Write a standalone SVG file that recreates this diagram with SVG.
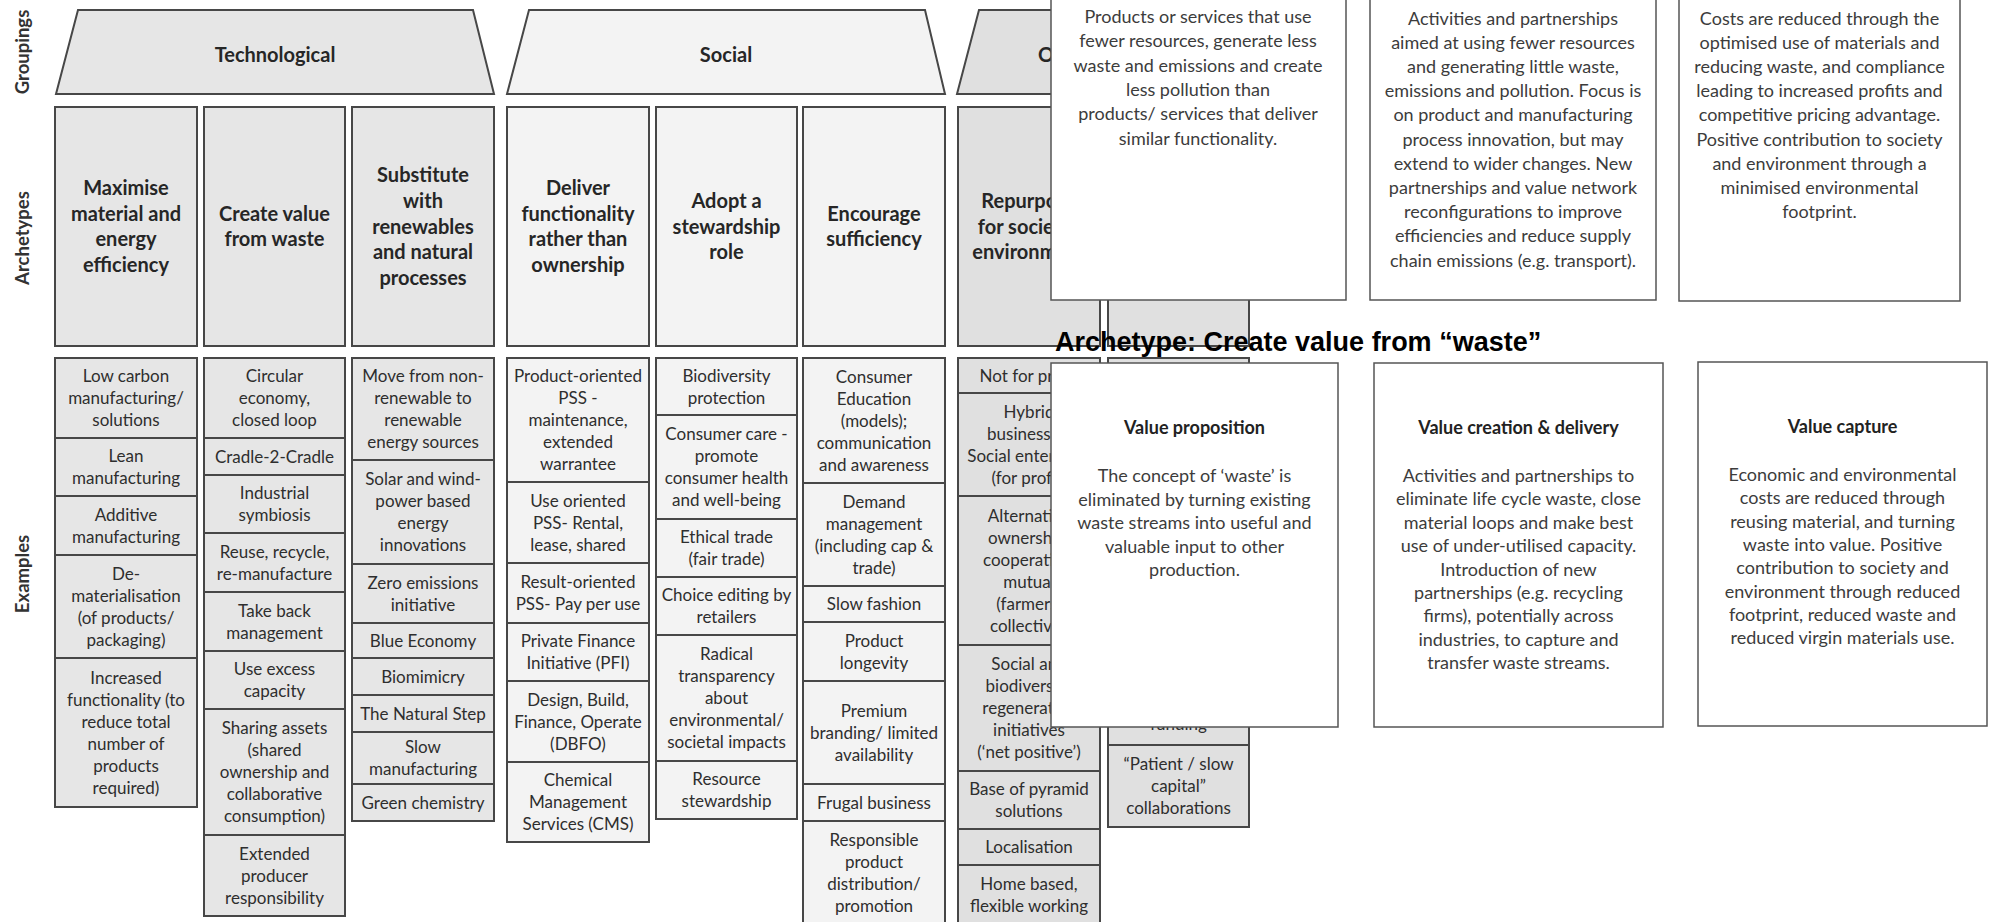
<svg xmlns="http://www.w3.org/2000/svg" width="1989" height="922" viewBox="0 0 1989 922">
<style>
.bt{fill:#e6e6e6;stroke:#474747;stroke-width:2}
.bs{fill:#f3f3f3;stroke:#474747;stroke-width:2}
.bo{fill:#e0e0e0;stroke:#474747;stroke-width:2}
.ex{font-family:Lato,"Liberation Sans",sans-serif;font-size:17px;fill:#2e2e2e;text-anchor:middle}
.ar{font-family:Lato,"Liberation Sans",sans-serif;font-size:20px;font-weight:bold;fill:#262626;text-anchor:middle}
.gr{font-family:Lato,"Liberation Sans",sans-serif;font-size:20px;font-weight:bold;fill:#262626;text-anchor:middle}
.sd{font-family:Lato,"Liberation Sans",sans-serif;font-size:18.5px;font-weight:bold;fill:#333;text-anchor:middle}
.pn{fill:#fff;stroke:#555;stroke-width:1.5}
.pt{font-family:Lato,"Liberation Sans",sans-serif;font-size:18px;fill:#3c3c3c;text-anchor:middle}
.ph{font-family:Lato,"Liberation Sans",sans-serif;font-size:18px;font-weight:bold;fill:#222;text-anchor:middle}
.ti{font-family:"Liberation Sans",Arial,sans-serif;font-size:27px;font-weight:bold;fill:#000}
</style>
<rect x="0" y="0" width="1989" height="922" fill="#fff"/>

<g id="side-labels">
<text class="sd" transform="translate(29,52) rotate(-90)">Groupings</text>
<text class="sd" transform="translate(29,238) rotate(-90)">Archetypes</text>
<text class="sd" transform="translate(29,574) rotate(-90)">Examples</text>
</g>

<g id="group-technological">
<polygon class="bt" points="78,10 473,10 494,94 56,94"/>
<text class="gr" x="275" y="62">Technological</text>
</g>
<g id="group-social">
<polygon class="bs" points="529,10 925,10 945,94 507,94"/>
<text class="gr" x="726" y="62">Social</text>
</g>
<g id="group-organisational">
<polygon class="bo" points="979,10 1228,10 1249,94 957,94"/>
<text class="gr" x="1038" y="62" style="text-anchor:start">O</text>
</g>

<g id="arch-1"><rect class="bt" x="55" y="107" width="142" height="239"/>
<text class="ar"><tspan x="126" y="195">Maximise</tspan><tspan x="126" y="220.6">material and</tspan><tspan x="126" y="246.2">energy</tspan><tspan x="126" y="271.8">efficiency</tspan></text></g>
<g id="arch-2"><rect class="bt" x="204" y="107" width="141" height="239"/>
<text class="ar"><tspan x="274.5" y="220.7">Create value</tspan><tspan x="274.5" y="246.3">from waste</tspan></text></g>
<g id="arch-3"><rect class="bt" x="352" y="107" width="142" height="239"/>
<text class="ar"><tspan x="423" y="182.3">Substitute</tspan><tspan x="423" y="207.9">with</tspan><tspan x="423" y="233.5">renewables</tspan><tspan x="423" y="259.1">and natural</tspan><tspan x="423" y="284.7">processes</tspan></text></g>
<g id="arch-4"><rect class="bs" x="507" y="107" width="142" height="239"/>
<text class="ar"><tspan x="578" y="195">Deliver</tspan><tspan x="578" y="220.6">functionality</tspan><tspan x="578" y="246.2">rather than</tspan><tspan x="578" y="271.8">ownership</tspan></text></g>
<g id="arch-5"><rect class="bs" x="656" y="107" width="141" height="239"/>
<text class="ar"><tspan x="726.5" y="207.9">Adopt a</tspan><tspan x="726.5" y="233.5">stewardship</tspan><tspan x="726.5" y="259.1">role</tspan></text></g>
<g id="arch-6"><rect class="bs" x="803" y="107" width="142" height="239"/>
<text class="ar"><tspan x="874" y="220.7">Encourage</tspan><tspan x="874" y="246.3">sufficiency</tspan></text></g>
<g id="arch-7"><rect class="bo" x="958" y="107" width="142" height="239"/>
<text class="ar"><tspan x="1029" y="207.9">Repurpose</tspan><tspan x="1029" y="233.5">for society/</tspan><tspan x="1029" y="259.1">environment</tspan></text></g>
<g id="arch-8"><rect class="bo" x="1108" y="107" width="141" height="239"/></g>

<g id="examples-1">
<rect class="bt" x="55" y="358" width="142" height="80"/>
<text class="ex"><tspan x="126" y="382">Low carbon</tspan><tspan x="126" y="404">manufacturing/</tspan><tspan x="126" y="426">solutions</tspan></text>
<rect class="bt" x="55" y="438" width="142" height="58"/>
<text class="ex"><tspan x="126" y="462">Lean</tspan><tspan x="126" y="484">manufacturing</tspan></text>
<rect class="bt" x="55" y="496" width="142" height="59"/>
<text class="ex"><tspan x="126" y="520.5">Additive</tspan><tspan x="126" y="542.5">manufacturing</tspan></text>
<rect class="bt" x="55" y="555" width="142" height="103"/>
<text class="ex"><tspan x="126" y="579.5">De-</tspan><tspan x="126" y="601.5">materialisation</tspan><tspan x="126" y="623.5">(of products/</tspan><tspan x="126" y="645.5">packaging)</tspan></text>
<rect class="bt" x="55" y="658" width="142" height="149"/>
<text class="ex"><tspan x="126" y="683.5">Increased</tspan><tspan x="126" y="705.5">functionality (to</tspan><tspan x="126" y="727.5">reduce total</tspan><tspan x="126" y="749.5">number of</tspan><tspan x="126" y="771.5">products</tspan><tspan x="126" y="793.5">required)</tspan></text>
</g>

<g id="examples-2">
<rect class="bt" x="204" y="358" width="141" height="80"/>
<text class="ex"><tspan x="274.5" y="382">Circular</tspan><tspan x="274.5" y="404">economy,</tspan><tspan x="274.5" y="426">closed loop</tspan></text>
<rect class="bt" x="204" y="438" width="141" height="37"/>
<text class="ex"><tspan x="274.5" y="462.5">Cradle-2-Cradle</tspan></text>
<rect class="bt" x="204" y="475" width="141" height="58"/>
<text class="ex"><tspan x="274.5" y="499">Industrial</tspan><tspan x="274.5" y="521">symbiosis</tspan></text>
<rect class="bt" x="204" y="533" width="141" height="59"/>
<text class="ex"><tspan x="274.5" y="557.5">Reuse, recycle,</tspan><tspan x="274.5" y="579.5">re-manufacture</tspan></text>
<rect class="bt" x="204" y="592" width="141" height="59"/>
<text class="ex"><tspan x="274.5" y="616.5">Take back</tspan><tspan x="274.5" y="638.5">management</tspan></text>
<rect class="bt" x="204" y="651" width="141" height="58"/>
<text class="ex"><tspan x="274.5" y="675">Use excess</tspan><tspan x="274.5" y="697">capacity</tspan></text>
<rect class="bt" x="204" y="709" width="141" height="126"/>
<text class="ex"><tspan x="274.5" y="734">Sharing assets</tspan><tspan x="274.5" y="756">(shared</tspan><tspan x="274.5" y="778">ownership and</tspan><tspan x="274.5" y="800">collaborative</tspan><tspan x="274.5" y="822">consumption)</tspan></text>
<rect class="bt" x="204" y="835" width="141" height="81"/>
<text class="ex"><tspan x="274.5" y="859.5">Extended</tspan><tspan x="274.5" y="881.5">producer</tspan><tspan x="274.5" y="903.5">responsibility</tspan></text>
</g>

<g id="examples-3">
<rect class="bt" x="352" y="358" width="142" height="102"/>
<text class="ex"><tspan x="423" y="382">Move from non-</tspan><tspan x="423" y="404">renewable  to</tspan><tspan x="423" y="426">renewable</tspan><tspan x="423" y="448">energy sources</tspan></text>
<rect class="bt" x="352" y="460" width="142" height="104"/>
<text class="ex"><tspan x="423" y="485">Solar and wind-</tspan><tspan x="423" y="507">power based</tspan><tspan x="423" y="529">energy</tspan><tspan x="423" y="551">innovations</tspan></text>
<rect class="bt" x="352" y="564" width="142" height="59"/>
<text class="ex"><tspan x="423" y="588.5">Zero emissions</tspan><tspan x="423" y="610.5">initiative</tspan></text>
<rect class="bt" x="352" y="623" width="142" height="35"/>
<text class="ex"><tspan x="423" y="646.5">Blue Economy</tspan></text>
<rect class="bt" x="352" y="658" width="142" height="37"/>
<text class="ex"><tspan x="423" y="682.5">Biomimicry</tspan></text>
<rect class="bt" x="352" y="695" width="142" height="37"/>
<text class="ex"><tspan x="423" y="719.5">The Natural Step</tspan></text>
<rect class="bt" x="352" y="732" width="142" height="52"/>
<text class="ex"><tspan x="423" y="753">Slow</tspan><tspan x="423" y="775">manufacturing</tspan></text>
<rect class="bt" x="352" y="784" width="142" height="37"/>
<text class="ex"><tspan x="423" y="808.5">Green chemistry</tspan></text>
</g>

<g id="examples-4">
<rect class="bs" x="507" y="358" width="142" height="124"/>
<text class="ex"><tspan x="578" y="382">Product-oriented</tspan><tspan x="578" y="404">PSS -</tspan><tspan x="578" y="426">maintenance,</tspan><tspan x="578" y="448">extended</tspan><tspan x="578" y="470">warrantee</tspan></text>
<rect class="bs" x="507" y="482" width="142" height="81"/>
<text class="ex"><tspan x="578" y="506.5">Use oriented</tspan><tspan x="578" y="528.5">PSS- Rental,</tspan><tspan x="578" y="550.5">lease, shared</tspan></text>
<rect class="bs" x="507" y="563" width="142" height="60"/>
<text class="ex"><tspan x="578" y="588">Result-oriented</tspan><tspan x="578" y="610">PSS- Pay per use</tspan></text>
<rect class="bs" x="507" y="623" width="142" height="58"/>
<text class="ex"><tspan x="578" y="647">Private Finance</tspan><tspan x="578" y="669">Initiative (PFI)</tspan></text>
<rect class="bs" x="507" y="681" width="142" height="81"/>
<text class="ex"><tspan x="578" y="705.5">Design, Build,</tspan><tspan x="578" y="727.5">Finance, Operate</tspan><tspan x="578" y="749.5">(DBFO)</tspan></text>
<rect class="bs" x="507" y="762" width="142" height="80"/>
<text class="ex"><tspan x="578" y="786">Chemical</tspan><tspan x="578" y="808">Management</tspan><tspan x="578" y="830">Services (CMS)</tspan></text>
</g>

<g id="examples-5">
<rect class="bs" x="656" y="358" width="141" height="57"/>
<text class="ex"><tspan x="726.5" y="381.5">Biodiversity</tspan><tspan x="726.5" y="403.5">protection</tspan></text>
<rect class="bs" x="656" y="415" width="141" height="104"/>
<text class="ex"><tspan x="726.5" y="440">Consumer care -</tspan><tspan x="726.5" y="462">promote</tspan><tspan x="726.5" y="484">consumer health</tspan><tspan x="726.5" y="506">and well-being</tspan></text>
<rect class="bs" x="656" y="519" width="141" height="58"/>
<text class="ex"><tspan x="726.5" y="543">Ethical trade</tspan><tspan x="726.5" y="565">(fair trade)</tspan></text>
<rect class="bs" x="656" y="577" width="141" height="58"/>
<text class="ex"><tspan x="726.5" y="601">Choice editing by</tspan><tspan x="726.5" y="623">retailers</tspan></text>
<rect class="bs" x="656" y="635" width="141" height="126"/>
<text class="ex"><tspan x="726.5" y="660">Radical</tspan><tspan x="726.5" y="682">transparency</tspan><tspan x="726.5" y="704">about</tspan><tspan x="726.5" y="726">environmental/</tspan><tspan x="726.5" y="748">societal impacts</tspan></text>
<rect class="bs" x="656" y="761" width="141" height="58"/>
<text class="ex"><tspan x="726.5" y="785">Resource</tspan><tspan x="726.5" y="807">stewardship</tspan></text>
</g>

<g id="examples-6">
<rect class="bs" x="803" y="358" width="142" height="125"/>
<text class="ex"><tspan x="874" y="382.5">Consumer</tspan><tspan x="874" y="404.5">Education</tspan><tspan x="874" y="426.5">(models);</tspan><tspan x="874" y="448.5">communication</tspan><tspan x="874" y="470.5">and awareness</tspan></text>
<rect class="bs" x="803" y="483" width="142" height="103"/>
<text class="ex"><tspan x="874" y="507.5">Demand</tspan><tspan x="874" y="529.5">management</tspan><tspan x="874" y="551.5">(including  cap &amp;</tspan><tspan x="874" y="573.5">trade)</tspan></text>
<rect class="bs" x="803" y="586" width="142" height="36"/>
<text class="ex"><tspan x="874" y="610">Slow fashion</tspan></text>
<rect class="bs" x="803" y="622" width="142" height="59"/>
<text class="ex"><tspan x="874" y="646.5">Product</tspan><tspan x="874" y="668.5">longevity</tspan></text>
<rect class="bs" x="803" y="681" width="142" height="103"/>
<text class="ex"><tspan x="874" y="716.5">Premium</tspan><tspan x="874" y="738.5">branding/ limited</tspan><tspan x="874" y="760.5">availability</tspan></text>
<rect class="bs" x="803" y="784" width="142" height="37"/>
<text class="ex"><tspan x="874" y="808.5">Frugal business</tspan></text>
<rect class="bs" x="803" y="821" width="142" height="112"/>
<text class="ex"><tspan x="874" y="846">Responsible</tspan><tspan x="874" y="868">product</tspan><tspan x="874" y="890">distribution/</tspan><tspan x="874" y="912">promotion</tspan></text>
</g>

<g id="examples-7">
<rect class="bo" x="958" y="358" width="142" height="35"/>
<text class="ex"><tspan x="1029" y="381.5">Not for profit</tspan></text>
<rect class="bo" x="958" y="393" width="142" height="103"/>
<text class="ex"><tspan x="1029" y="417.5">Hybrid</tspan><tspan x="1029" y="439.5">businesses,</tspan><tspan x="1029" y="461.5">Social enterprise</tspan><tspan x="1029" y="483.5">(for profit)</tspan></text>
<rect class="bo" x="958" y="496" width="142" height="149"/>
<text class="ex"><tspan x="1029" y="521.5">Alternative</tspan><tspan x="1029" y="543.5">ownership:</tspan><tspan x="1029" y="565.5">cooperative,</tspan><tspan x="1029" y="587.5">mutual</tspan><tspan x="1029" y="609.5">(farmers)</tspan><tspan x="1029" y="631.5">collectives</tspan></text>
<rect class="bo" x="958" y="645" width="142" height="126"/>
<text class="ex"><tspan x="1029" y="670">Social and</tspan><tspan x="1029" y="692">biodiversity</tspan><tspan x="1029" y="714">regenerative</tspan><tspan x="1029" y="736">initiatives</tspan><tspan x="1029" y="758">(‘net positive’)</tspan></text>
<rect class="bo" x="958" y="771" width="142" height="58"/>
<text class="ex"><tspan x="1029" y="795">Base of pyramid</tspan><tspan x="1029" y="817">solutions</tspan></text>
<rect class="bo" x="958" y="829" width="142" height="36"/>
<text class="ex"><tspan x="1029" y="853">Localisation</tspan></text>
<rect class="bo" x="958" y="865" width="142" height="68"/>
<text class="ex"><tspan x="1029" y="889.5">Home based,</tspan><tspan x="1029" y="911.5">flexible working</tspan></text>
</g>

<g id="examples-8">
<rect class="bo" x="1108" y="358" width="141" height="323"/>
<rect class="bo" x="1108" y="681" width="141" height="64"/>
<text class="ex"><tspan x="1178.5" y="730">funding</tspan></text>
<rect class="bo" x="1108" y="745" width="141" height="82"/>
<text class="ex"><tspan x="1178.5" y="770">“Patient / slow</tspan><tspan x="1178.5" y="792">capital”</tspan><tspan x="1178.5" y="814">collaborations</tspan></text>
</g>

<g id="connectors"></g>

<g id="panel-top-value-proposition">
<rect class="pn" x="1051" y="-3" width="295" height="303"/>
<text class="pt"><tspan x="1198" y="23">Products or services that use</tspan><tspan x="1198" y="47.3">fewer resources, generate less</tspan><tspan x="1198" y="71.6">waste and emissions and create</tspan><tspan x="1198" y="95.9">less pollution than</tspan><tspan x="1198" y="120.2">products/ services that deliver</tspan><tspan x="1198" y="144.5">similar functionality.</tspan></text>
</g>
<g id="panel-top-value-creation">
<rect class="pn" x="1370" y="-3" width="286" height="303"/>
<text class="pt"><tspan x="1513" y="24.5">Activities and partnerships</tspan><tspan x="1513" y="48.7">aimed at using fewer resources</tspan><tspan x="1513" y="72.9">and generating little waste,</tspan><tspan x="1513" y="97.1">emissions and pollution. Focus is</tspan><tspan x="1513" y="121.3">on product and manufacturing</tspan><tspan x="1513" y="145.5">process innovation, but may</tspan><tspan x="1513" y="169.7">extend to wider changes. New</tspan><tspan x="1513" y="193.9">partnerships and value network</tspan><tspan x="1513" y="218.1">reconfigurations to improve</tspan><tspan x="1513" y="242.3">efficiencies and reduce supply</tspan><tspan x="1513" y="266.5">chain emissions (e.g. transport).</tspan></text>
</g>
<g id="panel-top-value-capture">
<rect class="pn" x="1679" y="-3" width="281" height="304"/>
<text class="pt"><tspan x="1819.5" y="24.5">Costs are reduced through the</tspan><tspan x="1819.5" y="48.7">optimised use of materials and</tspan><tspan x="1819.5" y="72.9">reducing waste, and compliance</tspan><tspan x="1819.5" y="97.1">leading to increased profits and</tspan><tspan x="1819.5" y="121.3">competitive pricing advantage.</tspan><tspan x="1819.5" y="145.5">Positive contribution to society</tspan><tspan x="1819.5" y="169.7">and environment through a</tspan><tspan x="1819.5" y="193.9">minimised environmental</tspan><tspan x="1819.5" y="218.1">footprint.</tspan></text>
</g>

<g id="title">
<text class="ti" x="1055" y="351">Archetype: Create value from “waste”</text>
</g>

<g id="panel-value-proposition">
<rect class="pn" x="1051" y="363" width="287" height="364"/>
<text class="ph" x="1194.5" y="434">Value proposition</text>
<text class="pt"><tspan x="1194.5" y="482">The concept of ‘waste’ is</tspan><tspan x="1194.5" y="505.5">eliminated by turning existing</tspan><tspan x="1194.5" y="529">waste streams into useful and</tspan><tspan x="1194.5" y="552.5">valuable input to other</tspan><tspan x="1194.5" y="576">production.</tspan></text>
</g>
<g id="panel-value-creation">
<rect class="pn" x="1374" y="363" width="289" height="364"/>
<text class="ph" x="1518.5" y="434">Value creation &amp; delivery</text>
<text class="pt"><tspan x="1518.5" y="482">Activities and partnerships to</tspan><tspan x="1518.5" y="505.4">eliminate life cycle waste, close</tspan><tspan x="1518.5" y="528.8">material loops and make best</tspan><tspan x="1518.5" y="552.2">use of under-utilised capacity.</tspan><tspan x="1518.5" y="575.6">Introduction of new</tspan><tspan x="1518.5" y="599">partnerships (e.g. recycling</tspan><tspan x="1518.5" y="622.4">firms), potentially across</tspan><tspan x="1518.5" y="645.8">industries, to capture and</tspan><tspan x="1518.5" y="669.2">transfer waste streams.</tspan></text>
</g>
<g id="panel-value-capture">
<rect class="pn" x="1698" y="362" width="289" height="364"/>
<text class="ph" x="1842.5" y="433">Value capture</text>
<text class="pt"><tspan x="1842.5" y="481">Economic and environmental</tspan><tspan x="1842.5" y="504.3">costs are reduced through</tspan><tspan x="1842.5" y="527.6">reusing material, and turning</tspan><tspan x="1842.5" y="550.9">waste into value. Positive</tspan><tspan x="1842.5" y="574.2">contribution to society and</tspan><tspan x="1842.5" y="597.5">environment through reduced</tspan><tspan x="1842.5" y="620.8">footprint, reduced waste and</tspan><tspan x="1842.5" y="644.1">reduced virgin materials use.</tspan></text>
</g>
</svg>
